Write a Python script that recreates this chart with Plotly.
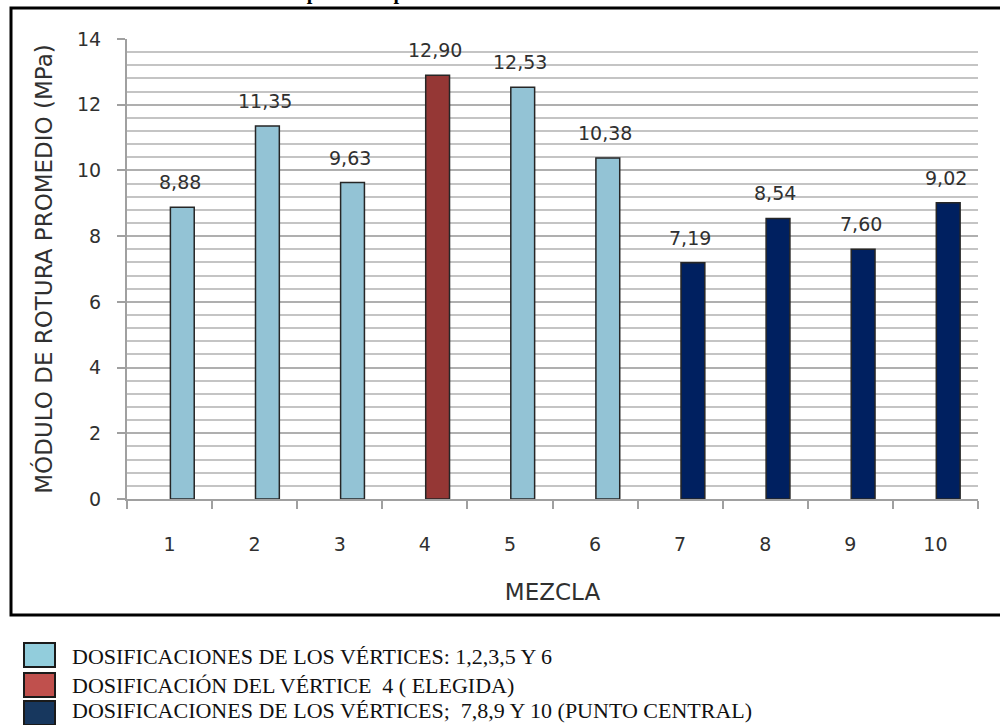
import plotly.graph_objects as go

# Mixes and average modulus of rupture (MPa)
mezclas = ["1", "2", "3", "4", "5", "6", "7", "8", "9", "10"]
modulo = [8.88, 11.35, 9.63, 12.90, 12.53, 10.38, 7.19, 8.54, 7.60, 9.02]
etiquetas = ["8,88", "11,35", "9,63", "12,90", "12,53", "10,38", "7,19", "8,54", "7,60", "9,02"]
grupo = ["v", "v", "v", "e", "v", "v", "c", "c", "c", "c"]

y_ticks = [0, 2, 4, 6, 8, 10, 12, 14]

bar_colors = {"v": "#93C3D5", "e": "#953735", "c": "#002060"}
legend_colors = ["#92CDDC", "#C0504D", "#17375E"]
legend_texts = [
    "DOSIFICACIONES DE LOS VÉRTICES: 1,2,3,5 Y 6",
    "DOSIFICACIÓN DEL VÉRTICE  4 ( ELEGIDA)",
    "DOSIFICACIONES DE LOS VÉRTICES;  7,8,9 Y 10 (PUNTO CENTRAL)",
]

W, H = 1000, 725
L, R, T, B = 127, 22, 39, 226
pw, ph = W - L - R, H - T - B

BAR_W = 0.28      # bar width in category units
BAR_OFF = 0.01    # bars sit just right of each category centre


def px(x):
    return (x - L) / pw


def py(y):
    return (H - B - y) / ph


fig = go.Figure()
fig.add_trace(go.Bar(
    x=mezclas,
    y=modulo,
    width=BAR_W,
    offset=BAR_OFF,
    marker=dict(color=[bar_colors[g] for g in grupo],
                line=dict(color="#262626", width=1.5)),
    showlegend=False,
    hoverinfo="skip",
))

text_font = dict(family="DejaVu Sans, sans-serif", size=19, color="#303030")

annotations = []
# value labels, placed by category index above each bar
for i, (v, t) in enumerate(zip(modulo, etiquetas)):
    annotations.append(dict(x=i + BAR_OFF + BAR_W / 2 - 0.03, y=v, xref="x", yref="y", text=t,
                            showarrow=False, yanchor="middle", yshift=25, font=text_font))

# legend rows below the chart frame: (box top, text centre)
rows_box = [643, 673, 701]
rows_text = [656, 685, 710]
shapes = []
for yy, ty, c, t in zip(rows_box, rows_text, legend_colors, legend_texts):
    shapes.append(dict(type="rect", xref="paper", yref="paper",
                       x0=px(24), x1=px(55), y0=py(yy + 24), y1=py(yy),
                       fillcolor=c, line=dict(color="#1a1a1a", width=2)))
    annotations.append(dict(xref="paper", yref="paper", x=px(71), y=py(ty),
                            xanchor="left", yanchor="middle", text=t, showarrow=False,
                            borderpad=0,
                            font=dict(family="Liberation Serif, serif", size=22, color="#111111")))

# chart frame
shapes.append(dict(type="rect", xref="paper", yref="paper", layer="below",
                   x0=px(11), x1=px(1004), y0=py(615), y1=py(8),
                   line=dict(color="#000000", width=3), fillcolor="rgba(0,0,0,0)"))

# caption above the frame
annotations.append(dict(xref="paper", yref="paper", x=px(45), y=py(6),
                        xanchor="left", yanchor="bottom", showarrow=False,
                        text="<b>FIGURA 4. Módulo de rotura promedio por mezcla a los 28 días.</b>",
                        font=dict(family="Liberation Serif, serif", size=20, color="#000000")))

fig.update_layout(
    width=W, height=H,
    margin=dict(l=L, r=R, t=T, b=B),
    paper_bgcolor="white", plot_bgcolor="white",
    shapes=shapes,
    annotations=annotations,
    xaxis=dict(
        type="category",
        range=[-0.5, 9.5],
        showline=True, linecolor="#A0A0A0", linewidth=2,
        ticks="outside", tickson="boundaries", ticklen=8, tickcolor="#A0A0A0", tickwidth=2,
        showgrid=False,
        tickfont=text_font,
        ticklabelstandoff=27,
        title=dict(text="MEZCLA", font=dict(family="DejaVu Sans, sans-serif", size=23, color="#303030"),
                   standoff=30),
    ),
    yaxis=dict(
        range=[0, 14],
        tickvals=y_ticks,
        showline=True, linecolor="#A0A0A0", linewidth=2,
        ticks="outside", ticklen=8, tickcolor="#A0A0A0", tickwidth=2,
        showgrid=True, gridcolor="#AFAFAF", gridwidth=2,
        minor=dict(dtick=0.4, tick0=0, showgrid=True, gridcolor="#C4C4C4", gridwidth=1.5),
        tickfont=text_font,
        ticklabelstandoff=12,
        zeroline=False,
        title=dict(text="MÓDULO DE ROTURA PROMEDIO (MPa)",
                   font=dict(family="DejaVu Sans, sans-serif", size=23, color="#303030"),
                   standoff=18),
    ),
)

fig.write_html("out.html")
